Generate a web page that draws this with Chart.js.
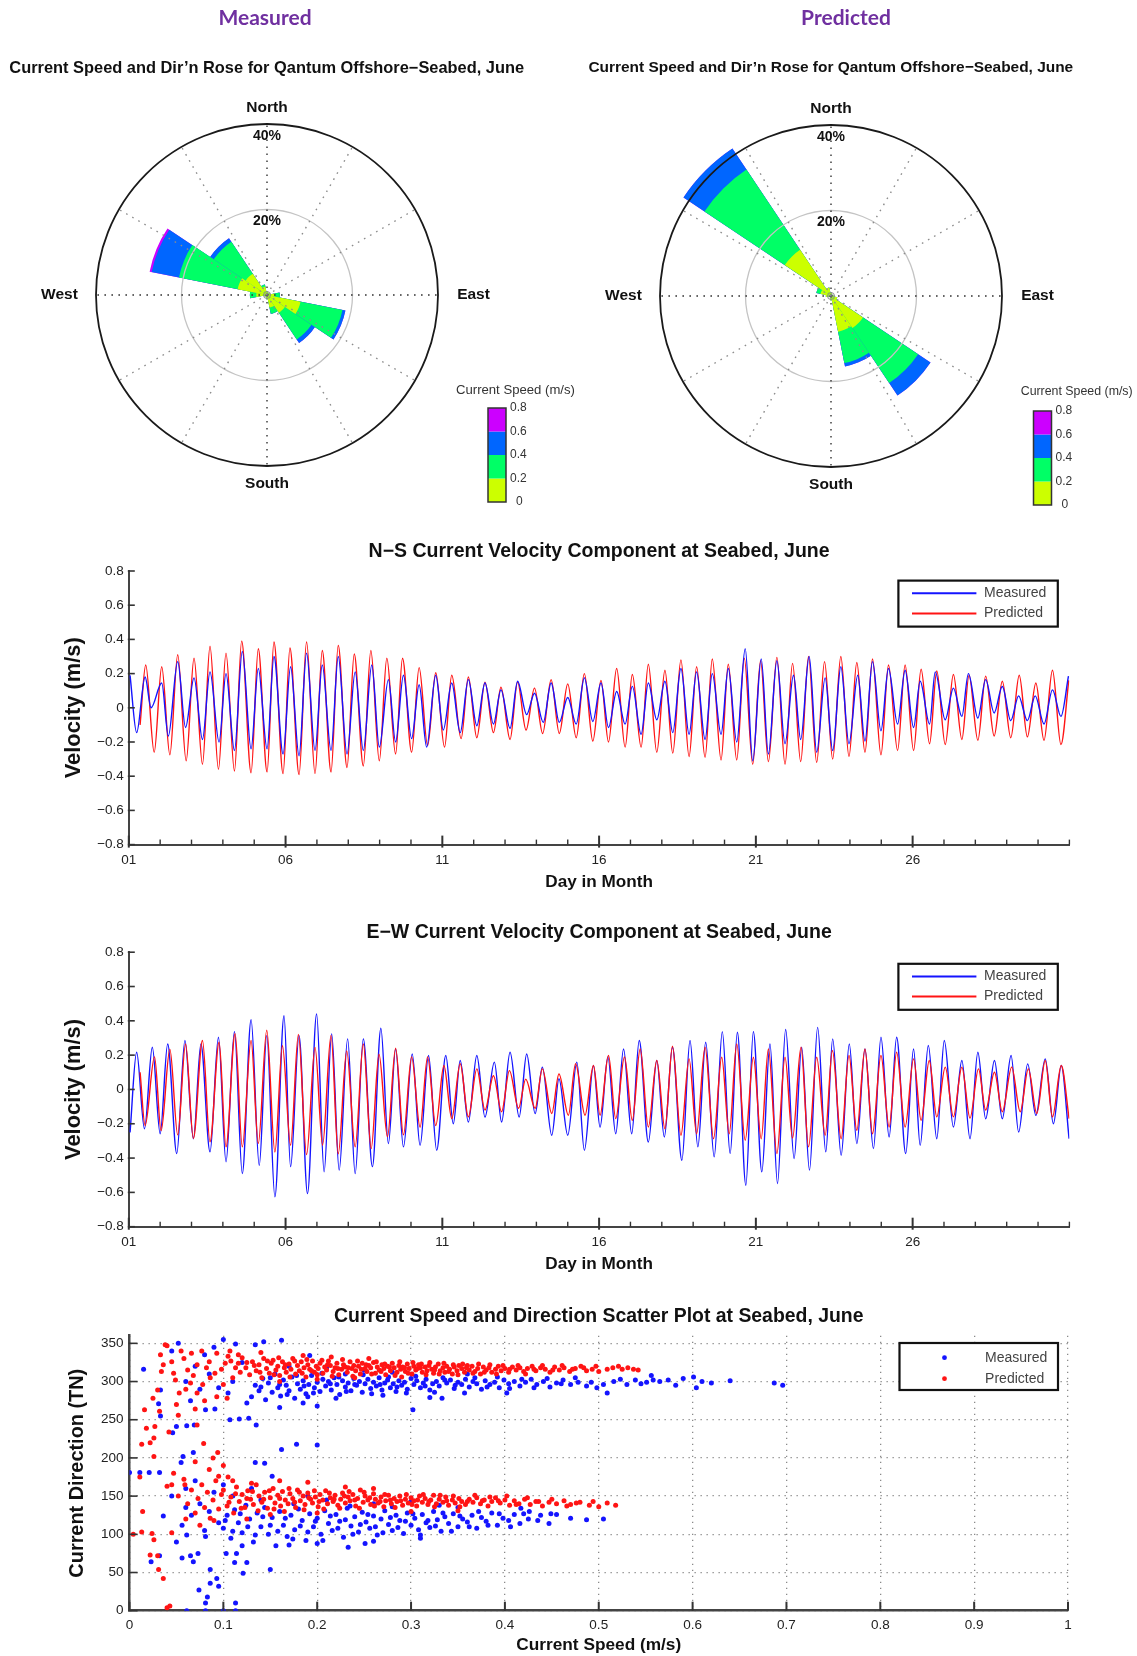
<!DOCTYPE html>
<html>
<head>
<meta charset="utf-8">
<script src="https://cdn.jsdelivr.net/npm/chart.js@4.4.0/dist/chart.umd.min.js"></script>
<style>
  html, body { margin: 0; padding: 0; background: #fff; }
  #page { position: relative; width: 1137px; height: 1656px; overflow: hidden; background: #fff; }
  canvas { position: absolute; left: 0; }
</style>
</head>
<body>
<div id="page">
  <canvas id="roseMeasured" width="1137" height="520" style="top:0px"></canvas>
  <canvas id="rosePredicted" width="1137" height="520" style="top:0px"></canvas>
  <canvas id="nsChart" width="1137" height="370" style="top:530px"></canvas>
  <canvas id="ewChart" width="1137" height="370" style="top:910px"></canvas>
  <canvas id="scatterChart" width="1137" height="366" style="top:1290px"></canvas>
</div>
<script>
// ---- rose data (% of records per direction sector, one row per speed class) ----
const dirLabels = ['N','NNE','NE','ENE','E','ESE','SE','SSE','S','SSW','SW','WSW','W','WNW','NW','NNW'];
const speedClasses = ['0-0.2', '0.2-0.4', '0.4-0.6', '0.6-0.8'];
const speedColors = ['#ccff00', '#00ff66', '#0066ff', '#cc00ff'];
const speedTicks = ['0', '0.2', '0.4', '0.6', '0.8'];

const measuredRose = [
  [0.8, 0.6, 0.5, 0.8, 1.8, 8.0, 5.0, 3.0, 1.0, 0.5, 0.4, 0.6, 2.5, 7.0, 6.0, 2.0],
  [0, 0, 0, 0, 1.2, 10.0, 7.5, 1.5, 0, 0, 0, 0, 1.5, 14.0, 9.0, 0.5],
  [0, 0, 0, 0, 0, 0.7, 1.0, 0, 0, 0, 0, 0, 0, 6.5, 1.0, 0],
  [0, 0, 0, 0, 0, 0, 0, 0, 0, 0, 0, 0, 0, 0.5, 0, 0]
];
const predictedRose = [
  [0.8, 0.5, 0.4, 0.4, 0.6, 1.5, 9.0, 8.5, 1.0, 0.4, 0.3, 0.4, 1.2, 2.5, 13.0, 2.0],
  [0, 0, 0, 0, 0, 0, 15.5, 7.5, 0, 0, 0, 0, 0, 1.0, 22.6, 0],
  [0, 0, 0, 0, 0, 0, 3.5, 0.8, 0, 0, 0, 0, 0, 0, 5.9, 0],
  [0, 0, 0, 0, 0, 0, 0, 0, 0, 0, 0, 0, 0, 0, 0, 0]
];

// ---- velocity components: [day, m/s] at each turning point ----
const dayTickValues = [1, 6, 11, 16, 21, 26];
const dayTickLabels = ['01', '06', '11', '16', '21', '26'];

const nsPredicted = [[1.36,-0.10],[1.54,0.25],[1.81,-0.26],[2.05,0.24],[2.31,-0.275],[2.56,0.31],[2.83,-0.31],[3.08,0.29],[3.35,-0.33],[3.59,0.36],[3.86,-0.36],[4.10,0.32],[4.37,-0.37],[4.60,0.39],[4.90,-0.38],[5.13,0.345],[5.41,-0.375],[5.63,0.385],[5.92,-0.385],[6.14,0.35],[6.43,-0.39],[6.67,0.385],[6.94,-0.385],[7.17,0.335],[7.45,-0.375],[7.68,0.365],[7.96,-0.35],[8.19,0.315],[8.48,-0.34],[8.72,0.335],[8.99,-0.31],[9.23,0.29],[9.51,-0.27],[9.73,0.29],[10.02,-0.26],[10.26,0.235],[10.53,-0.22],[10.79,0.205],[11.07,-0.23],[11.30,0.19],[11.60,-0.18],[11.83,0.18],[12.10,-0.175],[12.36,0.15],[12.63,-0.145],[12.87,0.12],[13.16,-0.185],[13.40,0.15],[13.67,-0.13],[13.94,0.115],[14.20,-0.15],[14.47,0.165],[14.73,-0.15],[15.00,0.14],[15.27,-0.175],[15.53,0.20],[15.80,-0.195],
  [16.06,0.16],[16.30,-0.20],[16.56,0.23],[16.83,-0.23],[17.06,0.195],[17.34,-0.23],[17.57,0.255],[17.84,-0.26],[18.10,0.22],[18.35,-0.265],[18.61,0.28],[18.87,-0.285],[19.11,0.24],[19.38,-0.29],[19.61,0.285],[19.89,-0.305],[20.12,0.255],[20.39,-0.305],[20.63,0.29],[20.90,-0.33],[21.15,0.275],[21.40,-0.315],[21.67,0.295],[21.93,-0.33],[22.17,0.26],[22.43,-0.315],[22.68,0.30],[22.94,-0.32],[23.19,0.27],[23.45,-0.30],[23.71,0.30],[23.97,-0.285],[24.22,0.265],[24.48,-0.26],[24.72,0.285],[24.99,-0.275],[25.23,0.25],[25.52,-0.25],[25.76,0.25],[26.03,-0.25],[26.27,0.225],[26.54,-0.21],[26.77,0.215],[27.04,-0.215],[27.30,0.195],[27.57,-0.185],[27.80,0.19],[28.08,-0.19],[28.33,0.185],[28.60,-0.165],[28.86,0.155],[29.13,-0.175],[29.40,0.19],[29.66,-0.17],[29.93,0.145],[30.19,-0.19],[30.46,0.22],[30.73,-0.215],[30.98,0.16]];

const nsMeasured = [[1.04,0.19],[1.25,-0.145],[1.52,0.18],[1.71,0.0],[2.05,0.145],[2.26,-0.165],[2.56,0.27],[2.81,-0.115],[3.08,0.175],[3.35,-0.185],[3.59,0.21],[3.88,-0.20],[4.10,0.20],[4.37,-0.25],[4.62,0.33],[4.90,-0.24],[5.13,0.23],[5.41,-0.24],[5.63,0.30],[5.92,-0.27],[6.16,0.24],[6.43,-0.28],[6.67,0.32],[6.94,-0.25],[7.17,0.25],[7.45,-0.25],[7.68,0.30],[7.96,-0.27],[8.22,0.21],[8.48,-0.25],[8.75,0.25],[8.99,-0.23],[9.28,0.165],[9.51,-0.20],[9.76,0.19],[10.02,-0.18],[10.26,0.135],[10.50,-0.23],[10.79,0.19],[11.03,-0.13],[11.30,0.145],[11.57,-0.145],[11.83,0.165],[12.10,-0.105],[12.36,0.145],[12.63,-0.095],[12.87,0.105],[13.16,-0.12],[13.40,0.155],[13.69,-0.04],[13.94,0.085],[14.22,-0.085],[14.47,0.145],[14.73,-0.085],[15.00,0.06],[15.27,-0.095],[15.53,0.175],[15.80,-0.08],
  [16.06,0.145],[16.30,-0.115],[16.56,0.095],[16.83,-0.095],[17.06,0.125],[17.34,-0.155],[17.57,0.145],[17.84,-0.07],[18.10,0.155],[18.35,-0.145],[18.61,0.23],[18.87,-0.155],[19.11,0.21],[19.38,-0.185],[19.61,0.20],[19.89,-0.155],[20.12,0.23],[20.39,-0.20],[20.66,0.345],[20.90,-0.31],[21.17,0.285],[21.40,-0.27],[21.67,0.275],[21.93,-0.21],[22.20,0.19],[22.43,-0.185],[22.70,0.30],[22.94,-0.26],[23.21,0.175],[23.45,-0.25],[23.71,0.24],[23.97,-0.21],[24.25,0.19],[24.48,-0.195],[24.72,0.27],[24.99,-0.135],[25.23,0.23],[25.52,-0.095],[25.76,0.22],[26.03,-0.115],[26.24,0.155],[26.54,-0.095],[26.72,0.21],[27.04,-0.07],[27.30,0.115],[27.57,-0.05],[27.78,0.20],[28.08,-0.06],[28.33,0.165],[28.60,-0.03],[28.86,0.125],[29.13,-0.075],[29.38,0.07],[29.66,-0.075],[29.91,0.07],[30.19,-0.095],[30.46,0.105],[30.73,-0.05],[30.97,0.185]];

const ewPredicted = [[1.36,0.10],[1.52,-0.21],[1.82,0.19],[2.03,-0.24],[2.31,0.235],[2.56,-0.265],[2.81,0.265],[3.06,-0.285],[3.35,0.285],[3.59,-0.305],[3.88,0.275],[4.10,-0.335],[4.39,0.325],[4.62,-0.335],[4.90,0.285],[5.13,-0.315],[5.40,0.345],[5.66,-0.365],[5.90,0.255],[6.16,-0.325],[6.41,0.32],[6.67,-0.38],[6.94,0.245],[7.18,-0.325],[7.45,0.315],[7.68,-0.375],[7.95,0.225],[8.22,-0.335],[8.48,0.265],[8.73,-0.345],[8.98,0.205],[9.25,-0.275],[9.51,0.24],[9.76,-0.265],[10.02,0.19],[10.29,-0.22],[10.53,0.19],[10.79,-0.21],[11.05,0.14],[11.30,-0.17],[11.57,0.15],[11.83,-0.16],[12.10,0.12],[12.36,-0.12],[12.63,0.08],[12.89,-0.13],[13.14,0.11],[13.43,-0.11],[13.66,0.06],[13.96,-0.11],[14.19,0.12],[14.49,-0.14],[14.72,0.09],[15.02,-0.15],[15.25,0.15],[15.55,-0.15],[15.82,0.14],
  [16.03,-0.15],[16.30,0.198],[16.53,-0.17],[16.81,0.19],[17.06,-0.18],[17.31,0.236],[17.57,-0.219],[17.84,0.169],[18.10,-0.229],[18.34,0.252],[18.61,-0.267],[18.87,0.178],[19.11,-0.258],[19.38,0.246],[19.65,-0.287],[19.91,0.188],[20.15,-0.258],[20.39,0.265],[20.66,-0.296],[20.92,0.188],[21.17,-0.287],[21.40,0.236],[21.67,-0.374],[21.93,0.188],[22.17,-0.283],[22.44,0.246],[22.68,-0.335],[22.94,0.188],[23.21,-0.267],[23.44,0.227],[23.72,-0.287],[23.97,0.198],[24.22,-0.238],[24.48,0.236],[24.72,-0.258],[24.99,0.198],[25.25,-0.219],[25.49,0.217],[25.76,-0.219],[26.03,0.178],[26.27,-0.18],[26.53,0.169],[26.77,-0.16],[27.04,0.13],[27.30,-0.16],[27.57,0.13],[27.83,-0.167],[28.10,0.12],[28.33,-0.12],[28.61,0.10],[28.86,-0.13],[29.16,0.13],[29.43,-0.13],[29.69,0.12],[29.96,-0.14],[30.23,0.169],[30.46,-0.16],[30.74,0.14],[30.99,-0.17]];

const ewMeasured = [[1.04,-0.25],[1.25,0.217],[1.50,-0.23],[1.75,0.246],[2.00,-0.258],[2.24,0.265],[2.53,-0.374],[2.79,0.285],[3.06,-0.287],[3.30,0.265],[3.59,-0.364],[3.86,0.304],[4.10,-0.422],[4.37,0.337],[4.62,-0.49],[4.90,0.407],[5.16,-0.442],[5.40,0.314],[5.66,-0.626],[5.95,0.43],[6.16,-0.45],[6.43,0.314],[6.70,-0.607],[6.99,0.44],[7.23,-0.48],[7.47,0.324],[7.71,-0.47],[7.98,0.295],[8.22,-0.49],[8.48,0.295],[8.77,-0.45],[9.04,0.357],[9.28,-0.316],[9.51,0.236],[9.76,-0.335],[10.04,0.207],[10.29,-0.326],[10.56,0.198],[10.82,-0.355],[11.11,0.198],[11.35,-0.20],[11.57,0.169],[11.83,-0.19],[12.10,0.198],[12.36,-0.161],[12.66,0.159],[12.89,-0.19],[13.16,0.217],[13.45,-0.161],[13.69,0.207],[13.96,-0.141],[14.19,0.13],[14.49,-0.267],[14.72,0.062],[15.00,-0.267],[15.29,0.159],[15.53,-0.355],[15.82,0.14],
  [16.03,-0.22],[16.28,0.19],[16.53,-0.258],[16.78,0.236],[17.04,-0.258],[17.28,0.285],[17.57,-0.306],[17.84,0.169],[18.08,-0.277],[18.34,0.246],[18.64,-0.413],[18.90,0.285],[19.15,-0.335],[19.40,0.275],[19.67,-0.393],[19.93,0.337],[20.18,-0.374],[20.41,0.333],[20.68,-0.558],[20.92,0.337],[21.19,-0.48],[21.45,0.265],[21.69,-0.548],[21.95,0.349],[22.22,-0.403],[22.46,0.246],[22.71,-0.47],[22.97,0.362],[23.23,-0.364],[23.45,0.295],[23.72,-0.384],[23.98,0.265],[24.22,-0.316],[24.48,0.236],[24.75,-0.345],[24.99,0.304],[25.25,-0.277],[25.49,0.304],[25.78,-0.374],[26.03,0.236],[26.24,-0.326],[26.50,0.256],[26.77,-0.287],[27.01,0.285],[27.30,-0.219],[27.57,0.169],[27.83,-0.287],[28.08,0.217],[28.33,-0.171],[28.61,0.169],[28.86,-0.171],[29.14,0.198],[29.38,-0.248],[29.67,0.149],[29.93,-0.151],[30.23,0.178],[30.49,-0.20],[30.74,0.14],[30.99,-0.287]];

// ---- speed / direction scatter: [m/s, deg TN] ----
const predictedScatter = [
  [0.120,331],[0.124,318],[0.128,309],[0.131,326],[0.135,314],[0.138,322],[0.141,305],[0.143,330],[0.146,317],[0.149,311],[0.151,324],[0.153,328],[0.156,315],[0.158,320],[0.160,308],[0.163,326],[0.165,318],[0.167,312],[0.170,323],[0.172,316],[0.174,330],[0.177,310],[0.179,321],[0.181,314],[0.183,326],[0.186,318],[0.188,306],[0.190,322],[0.192,316],[0.195,327],[0.197,312],[0.199,320],[0.201,317],[0.203,324],[0.206,311],[0.208,319],[0.210,315],[0.212,327],[0.214,321],[0.217,313],[0.219,318],[0.221,324],[0.223,309],[0.226,316],[0.228,322],[0.230,319],[0.232,312],[0.235,326],[0.237,317],[0.239,321],[0.241,314],[0.244,320],[0.246,310],[0.248,324],[0.251,317],[0.253,313],[0.255,321],[0.257,318],[0.260,325],[0.262,311],[0.264,319],[0.266,315],[0.269,322],[0.271,317],[0.273,309],[0.275,320],[0.278,314],[0.280,324],[0.282,318],[0.285,312],[0.287,321],[0.289,316],[0.291,319],[0.294,313],[0.296,323],[0.298,317],[0.301,310],[0.303,320],[0.305,315],[0.308,322],[0.310,318],[0.312,312],[0.315,319],[0.317,314],[0.319,321],[0.322,316],[0.324,311],[0.326,319],[0.329,323],[0.331,314],[0.334,318],[0.336,312],[0.338,320],[0.341,316],[0.344,310],[0.346,319],[0.349,314],[0.351,321],[0.354,317],[0.357,312],[0.359,318],[0.362,315],[0.365,320],[0.368,313],[0.371,317],[0.374,310],[0.377,319],[0.380,315],[0.383,318],[0.386,312],[0.390,316],[0.393,320],[0.396,314],[0.400,317],[0.404,312],[0.408,319],[0.412,315],[0.416,318],[0.420,313],[0.424,317],[0.429,320],[0.433,314],[0.438,318],[0.443,316],[0.448,312],[0.453,319],[0.458,315],[0.463,318],[0.469,313],[0.475,317],[0.481,320],[0.487,314],[0.493,316],[0.500,313],[0.509,316],[0.521,320],[0.525,316],[0.537,316],[0.542,315],
  [0.133,321],[0.139,312],[0.147,327],[0.154,309],[0.159,331],[0.166,322],[0.171,306],[0.176,327],[0.184,311],[0.189,329],[0.194,314],[0.200,309],[0.205,328],[0.211,322],[0.216,307],[0.222,317],[0.227,329],[0.233,318],[0.238,307],[0.243,327],[0.247,316],[0.252,322],[0.258,310],[0.263,326],[0.268,313],[0.272,323],[0.277,319],[0.283,308],[0.288,326],[0.293,318],[0.297,311],[0.302,325],[0.307,317],[0.311,323],[0.316,309],[0.320,325],[0.325,315],[0.330,310],[0.335,324],[0.340,313],[0.345,322],[0.350,309],[0.355,323],[0.360,321],[0.366,311],[0.372,323],[0.378,312],[0.384,322],[0.391,310],[0.398,321],[0.405,316],[0.414,321],[0.422,310],[0.431,316],[0.440,321],[0.451,315],[0.461,321],[0.472,316],[0.484,318],[0.497,320],[0.515,318],[0.531,318],[0.185,334],[0.215,332],[0.255,330],[0.140,338],[0.160,300],[0.200,303],[0.240,305],[0.290,306],[0.125,325],[0.118,312],[0.113,318],[0.108,327],
  [0.100,158],[0.104,137],[0.108,149],[0.111,128],[0.114,162],[0.117,143],[0.120,152],[0.123,135],[0.126,157],[0.129,146],[0.132,139],[0.135,165],[0.138,150],[0.141,142],[0.144,155],[0.147,134],[0.150,148],[0.153,160],[0.155,141],[0.158,151],[0.161,137],[0.163,156],[0.166,145],[0.169,140],[0.171,153],[0.174,147],[0.177,135],[0.179,158],[0.182,144],[0.185,150],[0.187,139],[0.190,154],[0.193,146],[0.195,141],[0.198,149],[0.201,136],[0.203,152],[0.206,145],[0.209,157],[0.211,140],[0.214,148],[0.217,143],[0.219,151],[0.222,138],[0.225,146],[0.227,154],[0.230,141],[0.233,149],[0.235,144],[0.238,152],[0.241,137],[0.243,147],[0.246,158],[0.249,142],[0.251,150],[0.254,145],[0.257,139],[0.260,153],[0.262,146],[0.265,141],[0.268,149],[0.271,136],[0.273,144],[0.276,151],[0.279,140],[0.282,147],[0.285,143],[0.288,150],[0.291,138],[0.294,146],[0.297,141],[0.300,148],[0.303,144],[0.306,137],[0.309,150],[0.312,142],[0.315,147],[0.318,139],[0.321,145],[0.324,151],[0.327,140],[0.330,146],[0.334,142],[0.337,149],[0.340,138],[0.344,145],[0.347,141],[0.351,147],[0.354,143],[0.358,139],[0.362,146],[0.366,142],[0.370,148],[0.374,140],[0.378,145],[0.382,137],[0.386,143],[0.390,148],[0.395,141],[0.400,145],[0.405,138],[0.410,144],[0.415,140],[0.421,146],[0.427,139],[0.433,143],[0.440,137],[0.447,142],[0.455,140],[0.463,144],[0.470,139],[0.476,141],[0.490,138],[0.494,143],[0.509,141],[0.518,138],
  [0.106,142],[0.113,153],[0.119,134],[0.125,147],[0.131,156],[0.137,131],[0.143,146],[0.149,157],[0.154,133],[0.160,147],[0.165,130],[0.170,160],[0.176,142],[0.181,155],[0.186,132],[0.191,148],[0.197,157],[0.202,143],[0.207,133],[0.213,154],[0.218,146],[0.224,134],[0.229,150],[0.234,156],[0.240,145],[0.245,134],[0.250,155],[0.256,148],[0.261,137],[0.267,143],[0.272,152],[0.278,145],[0.283,135],[0.289,144],[0.295,152],[0.301,139],[0.307,145],[0.313,152],[0.319,143],[0.325,136],[0.331,151],[0.338,144],[0.345,150],[0.352,136],[0.360,143],[0.368,151],[0.376,144],[0.384,149],[0.393,144],[0.402,150],[0.412,139],[0.424,148],[0.436,143],[0.450,146],[0.466,137],[0.480,142],[0.500,136],[0.230,162],[0.260,160],[0.190,168],[0.160,170],[0.300,130],[0.350,131],[0.200,128],[0.150,126],[0.130,167],[0.110,170],[0.125,120],
  [0.045,165],[0.052,150],[0.058,172],[0.062,140],[0.066,158],[0.070,128],[0.073,147],[0.077,165],[0.080,135],[0.083,155],[0.086,121],[0.089,145],[0.092,170],[0.095,133],[0.098,152],[0.060,120],[0.075,112],[0.090,118],[0.040,163],[0.047,180],[0.059,165],[0.079,219],[0.089,200],[0.094,207],[0.085,185],[0.070,195],[0.100,190],[0.105,175],[0.095,176],
  [0.004,100],[0.013,103],[0.024,101],[0.026,93],[0.022,73],[0.030,72],[0.031,54],[0.036,42],[0.040,4],[0.043,6],[0.045,102],[0.014,130],[0.011,175],[0.026,202],[0.013,218],[0.022,220],[0.026,226],[0.018,239],[0.027,241],[0.016,263],[0.025,278],[0.032,261],[0.030,289],[0.034,313],[0.038,348],[0.040,347],[0.033,335],[0.036,322],[0.045,326],[0.047,311],[0.049,302],[0.053,285],[0.052,256],[0.042,234],[0.066,337],[0.077,340],[0.072,322],[0.065,298],[0.072,285],[0.070,264],[0.072,243],[0.093,337],[0.105,333],[0.116,335],[0.116,324],[0.102,324],[0.091,311],[0.093,280],[0.104,278],[0.058,330],[0.062,315],[0.082,318],[0.086,305],[0.055,340],[0.068,308],[0.078,296],[0.098,316],[0.110,305],[0.107,340],[0.085,326],[0.060,290],[0.080,275],[0.050,270],[0.100,296]
];

const measuredScatter = [
  [0.130,280],[0.134,295],[0.138,288],[0.142,304],[0.145,276],[0.148,298],[0.152,286],[0.155,310],[0.158,292],[0.161,281],[0.164,302],[0.167,295],[0.170,288],[0.173,306],[0.176,278],[0.179,297],[0.182,290],[0.185,301],[0.188,284],[0.191,296],[0.194,308],[0.197,292],[0.200,299],[0.203,287],[0.206,303],[0.209,294],[0.212,300],[0.215,289],[0.218,305],[0.221,296],[0.224,283],[0.227,301],[0.230,293],[0.233,298],[0.236,288],[0.239,304],[0.242,295],[0.245,300],[0.248,286],[0.251,297],[0.254,303],[0.257,291],[0.260,299],[0.263,294],[0.266,305],[0.269,289],[0.272,298],[0.275,302],[0.278,292],[0.281,297],[0.284,287],[0.287,301],[0.290,295],[0.293,299],[0.296,290],[0.300,304],[0.303,296],[0.306,301],[0.310,292],[0.313,298],[0.316,303],[0.320,289],[0.323,297],[0.327,300],[0.330,294],[0.334,305],[0.338,298],[0.342,302],[0.346,291],[0.350,299],[0.354,296],[0.358,303],[0.362,293],[0.366,300],[0.370,297],[0.375,290],[0.379,301],[0.384,296],[0.389,299],[0.394,292],[0.399,302],[0.404,297],[0.410,300],[0.416,294],[0.422,299],[0.428,303],[0.434,296],[0.441,300],[0.448,293],[0.455,298],[0.462,302],[0.470,296],[0.478,299],[0.487,294],[0.498,292],[0.509,285],[0.516,300],[0.530,296],[0.539,302],[0.551,299],[0.556,308],[0.558,302],[0.574,302],[0.590,304],[0.601,306],[0.604,292],[0.620,298],[0.687,298],[0.696,295],[0.333,278],[0.402,285],[0.302,263],[0.200,268],[0.192,334],[0.210,318],[0.250,315],[0.170,320],[0.280,312],[0.230,310],[0.360,310],[0.185,272],[0.160,266],
  [0.140,293],[0.150,305],[0.160,296],[0.168,283],[0.178,308],[0.186,294],[0.196,285],[0.205,311],[0.214,297],[0.223,306],[0.231,287],[0.240,296],[0.249,309],[0.258,284],[0.267,296],[0.276,306],[0.285,293],[0.295,285],[0.305,307],[0.315,294],[0.325,286],[0.336,302],[0.347,295],[0.357,285],[0.368,305],[0.381,293],[0.392,306],[0.405,291],[0.418,303],[0.431,292],[0.445,304],[0.460,297],[0.475,305],[0.492,299],[0.505,296],[0.523,303],[0.545,297],[0.565,300],[0.582,295],[0.610,300],[0.640,301],[0.220,278],[0.270,282],[0.320,279],[0.190,280],
  [0.015,316],[0.052,350],[0.100,355],[0.113,349],[0.134,348],[0.143,352],[0.162,354],[0.033,289],[0.031,271],[0.033,255],[0.050,241],[0.061,242],[0.046,233],[0.069,243],[0.081,263],[0.091,264],[0.107,250],[0.117,251],[0.127,252],[0.135,243],[0.060,300],[0.070,320],[0.085,310],[0.095,292],[0.080,335],[0.110,300],[0.120,325],[0.105,285],[0.125,272],[0.065,275],[0.045,340],[0.090,345],[0.075,290],
  [0.100,108],[0.104,125],[0.108,95],[0.112,132],[0.116,115],[0.120,102],[0.124,138],[0.128,120],[0.132,90],[0.136,128],[0.140,110],[0.144,135],[0.148,100],[0.152,122],[0.156,85],[0.160,130],[0.164,112],[0.168,97],[0.172,125],[0.176,106],[0.180,133],[0.184,118],[0.188,92],[0.192,127],[0.196,110],[0.200,121],[0.204,100],[0.208,131],[0.212,114],[0.216,105],[0.220,126],[0.224,117],[0.228,96],[0.232,134],[0.236,111],[0.240,123],[0.244,103],[0.248,129],[0.252,116],[0.256,108],[0.260,124],[0.264,99],[0.268,120],[0.272,131],[0.276,113],[0.280,105],[0.284,125],[0.288,118],[0.292,101],[0.296,128],[0.300,112],[0.304,121],[0.308,106],[0.312,126],[0.316,115],[0.320,109],[0.324,130],[0.328,119],[0.332,104],[0.336,123],[0.340,114],[0.345,127],[0.350,110],[0.355,120],[0.360,116],[0.365,125],[0.370,108],[0.375,122],[0.380,117],[0.386,128],[0.392,112],[0.398,121],[0.404,118],[0.410,126],[0.416,114],[0.417,134],[0.426,130],[0.425,120],[0.438,125],[0.447,114],[0.449,127],[0.487,119],[0.505,120],[0.233,83],[0.251,88],[0.150,54],[0.175,140],[0.210,145],[0.260,140],[0.300,143],[0.190,150],[0.140,145],[0.350,135],
  [0.102,118],[0.110,104],[0.118,127],[0.126,110],[0.134,99],[0.142,123],[0.150,112],[0.158,104],[0.166,121],[0.174,94],[0.182,111],[0.190,103],[0.198,117],[0.206,92],[0.214,124],[0.222,108],[0.230,119],[0.238,100],[0.246,113],[0.254,126],[0.262,110],[0.270,102],[0.278,122],[0.286,109],[0.294,117],[0.302,127],[0.310,99],[0.318,118],[0.326,111],[0.334,128],[0.343,104],[0.352,124],[0.362,110],[0.372,130],[0.382,112],[0.394,127],[0.406,110],[0.420,127],[0.435,118],[0.455,126],[0.470,121],[0.200,88],[0.260,91],[0.170,86],[0.310,95],[0.235,137],[0.280,136],[0.330,138],
  [0.000,181],[0.011,181],[0.021,181],[0.032,181],[0.036,124],[0.056,112],[0.066,125],[0.050,90],[0.056,69],[0.061,99],[0.065,72],[0.068,64],[0.073,75],[0.081,97],[0.103,75],[0.114,75],[0.112,63],[0.125,63],[0.121,49],[0.023,64],[0.032,72],[0.086,54],[0.086,36],[0.093,42],[0.095,32],[0.074,27],[0.083,18],[0.081,10],[0.061,0],[0.081,0],[0.100,0],[0.113,0],[0.113,10],[0.057,202],[0.055,194],[0.068,207],[0.134,194],[0.144,193],[0.152,176],[0.162,211],[0.178,218],[0.200,217],[0.045,150],[0.060,160],[0.075,140],[0.085,130],[0.090,155],[0.070,170],[0.095,115],[0.080,105],[0.060,135],[0.100,165],[0.110,150],[0.130,160],[0.120,85]
];

// ---- styling ----
const FONT = '"Liberation Sans", Arial, Helvetica, sans-serif';
const BLUE = '#1414ff';
const RED = '#ff1414';
const AXIS = '#444';
const PLOT_LEFT = 128.8, PLOT_RIGHT = 1069.4;

Chart.defaults.font.family = FONT;
Chart.defaults.color = '#222';

const measureCtx = document.createElement('canvas').getContext('2d');
function fitSize(text, width, weight, family) {
  measureCtx.font = (weight || 'normal') + ' 100px ' + (family || FONT);
  return 100 * width / measureCtx.measureText(text).width;
}
const toXY = rows => rows.map(([x, y]) => ({ x, y }));

// ---- rose decorations: spokes, compass labels, titles, colour bar ----
const roseDecor = {
  id: 'roseDecor',
  afterDraw(chart, args, o) {
    const ctx = chart.ctx;
    const r = chart.scales.r;
    const cx = r.xCenter, cy = r.yCenter, R = r.drawingArea;
    ctx.save();
    for (let a = 0; a < 360; a += 30) {
      const rad = (a - 90) * Math.PI / 180;
      ctx.beginPath();
      ctx.setLineDash([1.6, 5.4]);
      ctx.strokeStyle = a % 90 === 0 ? '#333' : '#8c8c8c';
      ctx.lineWidth = 1.4;
      ctx.moveTo(cx, cy);
      ctx.lineTo(cx + R * Math.cos(rad), cy + R * Math.sin(rad));
      ctx.stroke();
    }
    ctx.setLineDash([]);
    ctx.strokeStyle = '#888';
    ctx.lineWidth = 1;
    ctx.beginPath();
    ctx.arc(cx, cy, 3.5, 0, Math.PI * 2);
    ctx.stroke();

    ctx.textAlign = 'center';
    ctx.textBaseline = 'middle';
    ctx.fillStyle = '#111';
    ctx.font = 'bold 15.5px ' + FONT;
    ctx.fillText('North', cx, cy - 187.5);
    ctx.fillText('South', cx, cy + 188.5);
    ctx.fillText('West', cx - 207.5, cy);
    ctx.fillText('East', cx + 206.5, cy);
    ctx.font = 'bold 14px ' + FONT;
    ctx.fillText('40%', cx, cy - 158.5);
    ctx.fillText('20%', cx, cy - 73.5);

    ctx.fillStyle = '#7030a0';
    ctx.font = 'bold 21px Lato, ' + FONT;
    ctx.fillText(o.title, o.titleX, 18.5);
    ctx.fillStyle = '#111';
    ctx.font = 'bold ' + fitSize(o.sub, o.subW, 'bold').toFixed(2) + 'px ' + FONT;
    ctx.fillText(o.sub, o.subX, 68);

    // colour bar legend
    const b = o.bar;
    const seg = b.h / speedColors.length;
    speedColors.forEach((c, i) => {
      ctx.fillStyle = c;
      ctx.fillRect(b.x, b.y + b.h - (i + 1) * seg, b.w, seg);
    });
    ctx.strokeStyle = '#333';
    ctx.lineWidth = 1.5;
    ctx.strokeRect(b.x, b.y, b.w, b.h);
    ctx.fillStyle = '#333';
    ctx.textAlign = 'left';
    ctx.font = fitSize(o.barTitle, o.barTitleW).toFixed(2) + 'px ' + FONT;
    ctx.fillText(o.barTitle, o.barTitleX, o.barTitleY);
    ctx.font = '12px ' + FONT;
    speedTicks.forEach((t, i) => {
      ctx.fillText(t, b.x + b.w + (i === 0 ? 10 : 4), b.y + b.h - i * seg);
    });
    ctx.restore();
  }
};

function roseConfig(bins, padding, decor) {
  let run = dirLabels.map(() => 0);
  const stacked = bins.map(row => (run = run.map((v, i) => v + row[i])));
  return {
    type: 'polarArea',
    data: {
      labels: dirLabels,
      datasets: stacked.map((d, i) => ({
        label: speedClasses[i], data: d, backgroundColor: speedColors[i], borderWidth: 0
      }))
    },
    options: {
      responsive: false,
      animation: false,
      layout: { padding },
      plugins: { legend: { display: false }, tooltip: { enabled: false }, roseDecor: decor },
      scales: {
        r: {
          min: 0, max: 40, startAngle: -11.25,
          ticks: { display: false, stepSize: 20 },
          angleLines: { display: false },
          pointLabels: { display: false },
          grid: {
            z: 1, circular: true,
            color: c => (c.tick && c.tick.value >= 40 ? '#1a1a1a' : '#c4c4c4'),
            lineWidth: c => (c.tick && c.tick.value >= 40 ? 1.8 : 1.3)
          }
        }
      }
    },
    plugins: [roseDecor]
  };
}

// ---- inward tick marks and boxed legend for the cartesian plots ----
const inwardTicks = {
  id: 'inwardTicks',
  afterDraw(chart, args, o) {
    const { ctx, chartArea: a, scales: { x, y } } = chart;
    ctx.save();
    ctx.strokeStyle = '#333';
    x.ticks.forEach(t => {
      const px = x.getPixelForValue(t.value);
      const major = t.label !== '';
      ctx.lineWidth = major ? 2 : 1.4;
      ctx.beginPath();
      ctx.moveTo(px, a.bottom + (major ? o.below : 0));
      ctx.lineTo(px, a.bottom - (major ? o.major : o.minor));
      ctx.stroke();
    });
    ctx.lineWidth = 1.6;
    y.ticks.forEach(t => {
      const py = y.getPixelForValue(t.value);
      ctx.beginPath();
      ctx.moveTo(a.left - 1, py);
      ctx.lineTo(a.left + o.yLen, py);
      ctx.stroke();
    });
    ctx.restore();
  }
};

const boxLegend = {
  id: 'boxLegend',
  afterDraw(chart, args, o) {
    const { ctx, chartArea: a } = chart;
    const x0 = a.right - o.right - o.width, y0 = a.top + o.top;
    ctx.save();
    ctx.fillStyle = '#fff';
    ctx.fillRect(x0, y0, o.width, o.height);
    ctx.strokeStyle = '#111';
    ctx.lineWidth = 2.2;
    ctx.strokeRect(x0, y0, o.width, o.height);
    ctx.textAlign = 'left';
    ctx.textBaseline = 'middle';
    ctx.font = '14px ' + FONT;
    chart.data.datasets.forEach((ds, i) => {
      const yy = y0 + o.rows[i];
      if (o.marker === 'line') {
        ctx.strokeStyle = ds.borderColor;
        ctx.lineWidth = 2;
        ctx.beginPath();
        ctx.moveTo(x0 + 13.6, yy);
        ctx.lineTo(x0 + 78, yy);
        ctx.stroke();
      } else {
        ctx.fillStyle = ds.backgroundColor;
        ctx.beginPath();
        ctx.arc(x0 + 45, yy, 2.4, 0, Math.PI * 2);
        ctx.fill();
      }
      ctx.fillStyle = '#444';
      ctx.fillText(ds.label, x0 + 85.6, yy);
    });
    ctx.restore();
  }
};

function dayLabel(v) {
  const i = dayTickValues.indexOf(v);
  return i >= 0 ? dayTickLabels[i] : '';
}
function velLabel(v) {
  if (Math.abs(v) < 1e-9) return '0';
  return v.toFixed(1).replace('-', '\u2212');
}

function seriesConfig(title, measured, predicted, redOnTop, g) {
  const tSize = fitSize(title, g.titleW, 'bold'), tLh = tSize * 1.2;
  const xtSize = fitSize('Day in Month', 107.7, 'bold'), xtLh = xtSize * 1.2;
  const ytSize = fitSize('Velocity (m/s)', 141, 'bold'), ytLh = ytSize * 1.2;
  const tickSize = 13.5, tickLh = tickSize * 1.2;
  return {
    type: 'line',
    data: {
      datasets: [
        { label: 'Measured', data: toXY(measured), borderColor: BLUE, borderWidth: 1.4, pointRadius: 0,
          cubicInterpolationMode: 'monotone', fill: false, order: redOnTop ? 1 : 0 },
        { label: 'Predicted', data: toXY(predicted), borderColor: RED, borderWidth: 1.4, pointRadius: 0,
          cubicInterpolationMode: 'monotone', fill: false, order: redOnTop ? 0 : 1 }
      ]
    },
    options: {
      responsive: false,
      animation: false,
      layout: { padding: { left: 0, right: 1137 - PLOT_RIGHT, top: g.titleY - g.top - tLh / 2, bottom: 0 } },
      plugins: {
        legend: { display: false },
        tooltip: { enabled: false },
        title: {
          display: true, text: title, fullSize: false, color: '#111',
          font: { size: tSize, weight: 'bold' },
          padding: { top: 0, bottom: g.areaTop - g.titleY - tLh / 2 }
        },
        boxLegend: { marker: 'line', width: 159.4, height: 46, right: 11.6, top: g.legendTop, rows: [12.7, 32.8] },
        inwardTicks: { minor: 5, major: 9, below: 3, yLen: 6 }
      },
      scales: {
        x: {
          type: 'linear', min: 1, max: 31,
          afterFit: s => { s.height = g.top + g.height - g.areaBottom; },
          grid: { display: false, drawTicks: false },
          border: { color: AXIS, width: 2 },
          ticks: {
            stepSize: 1, autoSkip: false, maxRotation: 0, color: '#222',
            padding: g.tickY - g.areaBottom - tickLh / 2, font: { size: tickSize },
            callback: v => dayLabel(v)
          },
          title: {
            display: true, text: 'Day in Month', color: '#111',
            font: { size: xtSize, weight: 'bold' },
            padding: { top: 0, bottom: g.top + g.height - g.xTitleY - xtLh / 2 }
          }
        },
        y: {
          min: -0.8, max: 0.8,
          afterFit: s => { s.width = PLOT_LEFT; },
          grid: { display: false, drawTicks: false },
          border: { color: AXIS, width: 2 },
          ticks: { stepSize: 0.2, padding: 5, color: '#222', font: { size: tickSize }, callback: v => velLabel(v) },
          title: {
            display: true, text: 'Velocity (m/s)', color: '#111',
            font: { size: ytSize, weight: 'bold' },
            padding: { top: 74 - ytLh / 2, bottom: 0 }
          }
        }
      }
    },
    plugins: [boxLegend, inwardTicks]
  };
}

function scatterConfig() {
  const title = 'Current Speed and Direction Scatter Plot at Seabed, June';
  const top = 1290, height = 366, areaTop = 1335.7, areaBottom = 1610.7;
  const tSize = fitSize(title, 530, 'bold'), tLh = tSize * 1.2;
  const xtSize = fitSize('Current Speed (m/s)', 165, 'bold'), xtLh = xtSize * 1.2;
  const ytSize = fitSize('Current Direction (TN)', 209, 'bold'), ytLh = ytSize * 1.2;
  const tickSize = 13.5, tickLh = tickSize * 1.2;
  const dotted = { color: '#8a8a8a', lineWidth: 1.3, drawTicks: false };
  return {
    type: 'scatter',
    data: {
      datasets: [
        { label: 'Measured', data: toXY(measuredScatter), backgroundColor: BLUE, borderWidth: 0, pointRadius: 2.5, order: 1 },
        { label: 'Predicted', data: toXY(predictedScatter), backgroundColor: RED, borderWidth: 0, pointRadius: 2.5, order: 0 }
      ]
    },
    options: {
      responsive: false,
      animation: false,
      layout: { padding: { left: 0, right: 1137 - 1068, top: 1316.5 - top - tLh / 2, bottom: 0 } },
      plugins: {
        legend: { display: false },
        tooltip: { enabled: false },
        title: {
          display: true, text: title, fullSize: false, color: '#111',
          font: { size: tSize, weight: 'bold' },
          padding: { top: 0, bottom: areaTop - 1316.5 - tLh / 2 }
        },
        boxLegend: { marker: 'dot', width: 158.5, height: 47, right: 10, top: 7.3, rows: [14.7, 35.7] },
        inwardTicks: { minor: 9, major: 9, below: 0, yLen: 8 }
      },
      scales: {
        x: {
          type: 'linear', min: 0, max: 1,
          afterFit: s => { s.height = top + height - areaBottom; },
          grid: dotted,
          border: { color: AXIS, width: 2.5, dash: [1.3, 4.7] },
          ticks: {
            stepSize: 0.1, maxRotation: 0, color: '#222', padding: 15 - tickLh / 2, font: { size: tickSize },
            callback: v => String(Math.round(v * 10) / 10)
          },
          title: {
            display: true, text: 'Current Speed (m/s)', color: '#111',
            font: { size: xtSize, weight: 'bold' },
            padding: { top: 0, bottom: top + height - 1645 - xtLh / 2 }
          }
        },
        y: {
          min: 0, max: 360,
          afterFit: s => { s.width = 129.5; },
          grid: dotted,
          border: { color: AXIS, width: 2.5, dash: [1.3, 4.7] },
          ticks: { stepSize: 50, includeBounds: false, padding: 6, color: '#222', font: { size: tickSize } },
          title: {
            display: true, text: 'Current Direction (TN)', color: '#111',
            font: { size: ytSize, weight: 'bold' },
            padding: { top: 78 - ytLh / 2, bottom: 0 }
          }
        }
      }
    },
    plugins: [boxLegend, inwardTicks]
  };
}

const roseSub = 'Current Speed and Dir\u2019n Rose for Qantum Offshore\u2212Seabed, June';

new Chart(document.getElementById('roseMeasured'), roseConfig(
  measuredRose,
  { left: 96, top: 124, right: 1137 - 438, bottom: 520 - 466 },
  { title: 'Measured', titleX: 265, sub: roseSub, subX: 266.7, subW: 515,
    bar: { x: 488, y: 408, w: 18, h: 94 }, barTitle: 'Current Speed (m/s)', barTitleX: 456, barTitleY: 390, barTitleW: 119 }
));

new Chart(document.getElementById('rosePredicted'), roseConfig(
  predictedRose,
  { left: 660, top: 125, right: 1137 - 1002, bottom: 520 - 467 },
  { title: 'Predicted', titleX: 846, sub: roseSub, subX: 830.8, subW: 485,
    bar: { x: 1033.5, y: 411, w: 18, h: 94 }, barTitle: 'Current Speed (m/s)', barTitleX: 1020.7, barTitleY: 392, barTitleW: 112 }
));

new Chart(document.getElementById('nsChart'), seriesConfig(
  'N\u2212S Current Velocity Component at Seabed, June', nsMeasured, nsPredicted, false,
  { top: 530, height: 370, titleY: 552, titleW: 461.5, areaTop: 571, areaBottom: 844.6, tickY: 860.4, xTitleY: 882.6, legendTop: 9.6 }
));

new Chart(document.getElementById('ewChart'), seriesConfig(
  'E\u2212W Current Velocity Component at Seabed, June', ewMeasured, ewPredicted, true,
  { top: 910, height: 370, titleY: 933, titleW: 465.6, areaTop: 952.2, areaBottom: 1226.7, tickY: 1242.6, xTitleY: 1264.7, legendTop: 11.6 }
));

new Chart(document.getElementById('scatterChart'), scatterConfig());
</script>
</body>
</html>
